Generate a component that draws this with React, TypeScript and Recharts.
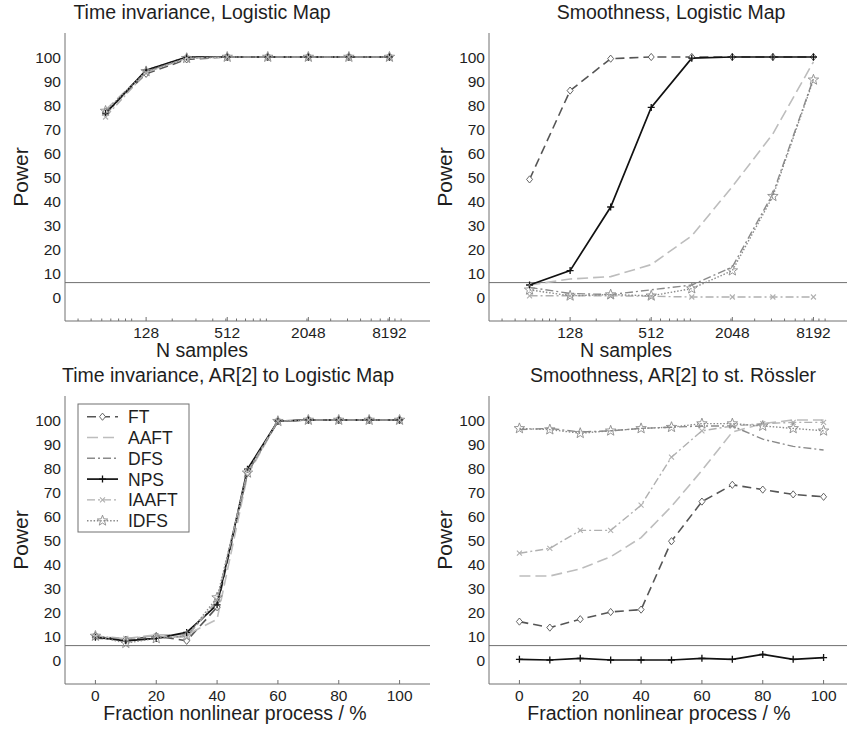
import React from 'react';
import { LineChart, Line, XAxis, YAxis, ReferenceLine } from 'recharts';

// x values
const N_SAMPLES = [64, 128, 256, 512, 1024, 2048, 4096, 8192];
const FRACTION = [0, 10, 20, 30, 40, 50, 60, 70, 80, 90, 100];

// tick labels
const LOG_MAJOR = [128, 512, 2048, 8192];
const LOG_MINOR = [40, 50, 60, 70, 80, 90, 100, 200, 300, 400, 500, 600, 700, 800, 900, 1000, 2000, 3000, 4000, 5000, 6000, 7000, 8000, 9000, 10000];
const FRAC_TICKS = [0, 20, 40, 60, 80, 100];
const POWER_TICKS = [0, 10, 20, 30, 40, 50, 60, 70, 80, 90, 100];
const SIGNIFICANCE = 6;

const METHODS = ['FT', 'AAFT', 'DFS', 'NPS', 'IAAFT', 'IDFS'];

// Time invariance, Logistic Map
const TI_LOG_FT = [77, 93, 99, 100, 100, 100, 100, 100];
const TI_LOG_AAFT = [78, 94, 99.5, 100, 100, 100, 100, 100];
const TI_LOG_DFS = [76, 94.5, 100, 100, 100, 100, 100, 100];
const TI_LOG_NPS = [76.5, 94.5, 100, 100, 100, 100, 100, 100];
const TI_LOG_IAAFT = [75, 93.5, 99.5, 100, 100, 100, 100, 100];
const TI_LOG_IDFS = [77.5, 94, 99.5, 100, 100, 100, 100, 100];

// Smoothness, Logistic Map
const SM_LOG_FT = [49, 86, 99.3, 100, 100, 100, 100, 100];
const SM_LOG_AAFT = [5, 7.5, 8.5, 13.5, 25.5, 46, 68, 98];
const SM_LOG_DFS = [4, 1.5, 1, 3, 5, 12.5, 43, 91];
const SM_LOG_NPS = [5, 11, 37.5, 79, 99.5, 100, 100, 100];
const SM_LOG_IAAFT = [0.5, 0.5, 0.5, 0.3, 0, 0, 0, 0];
const SM_LOG_IDFS = [3, 0.5, 1, 0.5, 3.5, 11, 42, 90.5];

// Time invariance, AR[2] to Logistic Map
const TI_AR_FT = [10, 8.5, 10, 8, 22, 78, 99.5, 100, 100, 100, 100];
const TI_AR_AAFT = [9.5, 9, 10.5, 10.5, 17, 77, 99.5, 100, 100, 100, 100];
const TI_AR_DFS = [9, 8.5, 9, 10, 24, 78, 99.5, 100, 100, 100, 100];
const TI_AR_NPS = [9.5, 8, 9, 11.5, 23, 79.5, 99.5, 100, 100, 100, 100];
const TI_AR_IAAFT = [10, 9, 10, 9.5, 25, 78.5, 99.5, 100, 100, 100, 100];
const TI_AR_IDFS = [10, 7, 9, 10, 26, 78, 99.5, 100, 100, 100, 100];

// Smoothness, AR[2] to st. Rössler
const SM_AR_FT = [16, 13.5, 17, 20, 21, 49.5, 66, 73, 71, 69, 68];
const SM_AR_AAFT = [35, 35, 38, 43, 51, 64, 79, 95, 98.5, 100, 100];
const SM_AR_DFS = [96, 96.5, 95, 95.5, 96.5, 97, 97.5, 97.5, 92, 89, 87.5];
const SM_AR_NPS = [0.3, 0, 0.7, 0, 0, 0, 0.7, 0.3, 2.3, 0.3, 1];
const SM_AR_IAAFT = [44.5, 46.5, 54, 54, 64.5, 84.5, 95.5, 97.5, 98.5, 99, 99];
const SM_AR_IDFS = [96.5, 96, 94.5, 95.5, 96.5, 97, 98.5, 98.5, 97.5, 96.5, 95.5];

const AX = '#707070';
const TXT = '#1e1e1e';
const FONT = '"Liberation Sans", Arial, sans-serif';

type Kind = 'diamond' | 'plus' | 'cross' | 'star' | null;
const LOOK: Record<string, { stroke: string; dash?: string; width: number; marker: Kind }> = {
  FT: { stroke: '#555', dash: '9 5', width: 1.6, marker: 'diamond' },
  AAFT: { stroke: '#bdbdbd', dash: '11 5', width: 1.6, marker: null },
  DFS: { stroke: '#8a8a8a', dash: '8 3 2 3', width: 1.4, marker: null },
  NPS: { stroke: '#111', width: 1.7, marker: 'plus' },
  IAAFT: { stroke: '#b0b0b0', dash: '8 3 2 3', width: 1.4, marker: 'cross' },
  IDFS: { stroke: '#8a8a8a', dash: '1.5 1.8', width: 1.4, marker: 'star' },
};

const rows = (xs: number[], series: number[][]) =>
  xs.map((x, i) => {
    const r: Record<string, number> = { x };
    METHODS.forEach((m, k) => (r[m] = series[k][i]));
    return r;
  });

function Marker({ cx, cy, kind, color }: any) {
  if (cx == null || cy == null || !kind) return null;
  if (kind === 'diamond')
    return <path d={`M${cx},${cy - 3.6}L${cx + 3},${cy}L${cx},${cy + 3.6}L${cx - 3},${cy}Z`} fill="#fff" stroke={color} strokeWidth={0.9} />;
  if (kind === 'plus')
    return <path d={`M${cx - 3.5},${cy}H${cx + 3.5}M${cx},${cy - 3.5}V${cy + 3.5}`} stroke={color} strokeWidth={1.3} />;
  if (kind === 'cross')
    return <path d={`M${cx - 2.5},${cy - 2.5}L${cx + 2.5},${cy + 2.5}M${cx + 2.5},${cy - 2.5}L${cx - 2.5},${cy + 2.5}`} stroke={color} strokeWidth={1.1} />;
  const pts: string[] = [];
  for (let i = 0; i < 10; i++) {
    const r = i % 2 === 0 ? 5.5 : 2.3;
    const a = -Math.PI / 2 + (i * Math.PI) / 5;
    pts.push(`${cx + r * Math.cos(a)},${cy + r * Math.sin(a)}`);
  }
  return <polygon points={pts.join(' ')} fill="none" stroke={color} strokeWidth={0.9} />;
}

function XTick({ x, y, payload, side, majors }: any) {
  const major = majors.includes(payload.value);
  const len = major ? 4 : 2.5;
  const dir = side === 'bottom' ? -1 : 1;
  return (
    <g>
      <line x1={x} x2={x} y1={y} y2={y + dir * len} stroke={AX} strokeWidth={1} />
      {side === 'bottom' && major && (
        <text x={x} y={y + 16.5} textAnchor="middle" fontSize={15.5} fill={TXT} fontFamily={FONT}>
          {payload.value}
        </text>
      )}
    </g>
  );
}

function YTick({ x, y, payload, side }: any) {
  if (side === 'right') return <line x1={x} x2={x - 4} y1={y} y2={y} stroke={AX} strokeWidth={1} />;
  return (
    <text x={x - 4} y={y + 5.5} textAnchor="end" fontSize={15.5} fill={TXT} fontFamily={FONT}>
      {payload.value}
    </text>
  );
}

function LegendBox() {
  return (
    <svg width={120} height={135} style={{ position: 'absolute', left: 77, top: 38 }}>
      <rect x={1} y={1} width={111} height={128} fill="#fff" stroke={AX} strokeWidth={1} />
      {METHODS.map((m, i) => {
        const st = LOOK[m];
        const cy = 13.7 + i * 20.8;
        return (
          <g key={m}>
            <line x1={10} x2={41} y1={cy} y2={cy} stroke={st.stroke} strokeWidth={st.width} strokeDasharray={st.dash} />
            <Marker cx={25.5} cy={cy} kind={st.marker} color={st.stroke} />
            <text x={51} y={cy + 6.5} fontSize={17.5} fill={TXT} fontFamily={FONT}>{m}</text>
          </g>
        );
      })}
    </svg>
  );
}

function Panel({ left, top, clip, plotTop, title, titleX, titleTop, xLabel, xLabelX, log, data, legend }: any) {
  const xs = log
    ? { scale: 'log' as const, domain: [32, 16384], ticks: [...LOG_MINOR, ...LOG_MAJOR].sort((a, b) => a - b), majors: LOG_MAJOR }
    : { scale: 'linear' as const, domain: [-10, 110], ticks: FRAC_TICKS, majors: FRAC_TICKS };
  const H = 365;
  return (
    <div style={{ position: 'absolute', left, top, width: clip, height: H, overflow: 'hidden' }}>
      <LineChart width={440} height={H} data={data} margin={{ top: plotTop, right: 10, bottom: 0, left: 0 }}>
        <XAxis
          dataKey="x" type="number" scale={xs.scale} domain={xs.domain} ticks={xs.ticks} interval={0}
          allowDataOverflow height={H - plotTop - 288} tickSize={0} tickMargin={0} tickLine={false}
          axisLine={{ stroke: AX }} tick={<XTick side="bottom" majors={xs.majors} />}
        />
        <XAxis
          xAxisId="top" orientation="top" dataKey="x" type="number" scale={xs.scale} domain={xs.domain}
          ticks={xs.ticks} interval={0} allowDataOverflow height={0} tickSize={0} tickMargin={0}
          tickLine={false} axisLine={{ stroke: AX }} tick={<XTick side="top" majors={xs.majors} />}
        />
        <YAxis
          type="number" domain={[-10, 110]} ticks={POWER_TICKS} interval={0} width={65} tickSize={0}
          tickMargin={0} tickLine={false} axisLine={{ stroke: AX }} tick={<YTick side="left" />}
        />
        <YAxis
          yAxisId="r" orientation="right" type="number" domain={[-10, 110]} ticks={[-10, ...POWER_TICKS, 110]}
          interval={0} width={0} tickSize={0} tickMargin={0} tickLine={false} axisLine={false}
          tick={<YTick side="right" />}
        />
        <ReferenceLine y={SIGNIFICANCE} stroke={AX} strokeWidth={1} />
        {METHODS.map((m) => {
          const st = LOOK[m];
          return (
            <Line
              key={m} dataKey={m} stroke={st.stroke} strokeWidth={st.width} strokeDasharray={st.dash}
              isAnimationActive={false} activeDot={false}
              dot={st.marker ? (p: any) => <Marker key={`${m}-${p.index}`} cx={p.cx} cy={p.cy} kind={st.marker} color={st.stroke} /> : false}
            />
          );
        })}
      </LineChart>
      <div style={{ position: 'absolute', left: titleX, top: titleTop, transform: 'translateX(-50%)', whiteSpace: 'nowrap', fontFamily: FONT, fontSize: 19.5, lineHeight: 1, color: TXT }}>
        {title}
      </div>
      <div style={{ position: 'absolute', left: 20, top: plotTop + 144, transform: 'translate(-50%, -50%) rotate(-90deg)', fontFamily: FONT, fontSize: 21, lineHeight: 1, color: TXT }}>
        Power
      </div>
      <div style={{ position: 'absolute', left: xLabelX, top: plotTop + 288 + 20, transform: 'translateX(-50%)', whiteSpace: 'nowrap', fontFamily: FONT, fontSize: 19.5, lineHeight: 1, color: TXT }}>
        {xLabel}
      </div>
      {legend && <LegendBox />}
    </div>
  );
}

export default function App() {
  const tiLog = rows(N_SAMPLES, [TI_LOG_FT, TI_LOG_AAFT, TI_LOG_DFS, TI_LOG_NPS, TI_LOG_IAAFT, TI_LOG_IDFS]);
  const smLog = rows(N_SAMPLES, [SM_LOG_FT, SM_LOG_AAFT, SM_LOG_DFS, SM_LOG_NPS, SM_LOG_IAAFT, SM_LOG_IDFS]);
  const tiAr = rows(FRACTION, [TI_AR_FT, TI_AR_AAFT, TI_AR_DFS, TI_AR_NPS, TI_AR_IAAFT, TI_AR_IDFS]);
  const smAr = rows(FRACTION, [SM_AR_FT, SM_AR_AAFT, SM_AR_DFS, SM_AR_NPS, SM_AR_IAAFT, SM_AR_IDFS]);
  return (
    <div style={{ position: 'absolute', left: 0, top: 0, width: 847, height: 730, background: '#fff', overflow: 'hidden' }}>
      <Panel left={0} top={0} clip={431} plotTop={33} title="Time invariance, Logistic Map" titleX={202} titleTop={3}
        xLabel="N samples" xLabelX={202} log data={tiLog} />
      <Panel left={424} top={0} clip={423} plotTop={33} title="Smoothness, Logistic Map" titleX={247} titleTop={3}
        xLabel="N samples" xLabelX={202} log data={smLog} />
      <Panel left={0} top={365} clip={431} plotTop={31} title="Time invariance, AR[2] to Logistic Map" titleX={228} titleTop={1}
        xLabel="Fraction nonlinear process / %" xLabelX={235} data={tiAr} legend />
      <Panel left={424} top={365} clip={423} plotTop={31} title="Smoothness, AR[2] to st. Rössler" titleX={249} titleTop={1}
        xLabel="Fraction nonlinear process / %" xLabelX={235} data={smAr} />
    </div>
  );
}
